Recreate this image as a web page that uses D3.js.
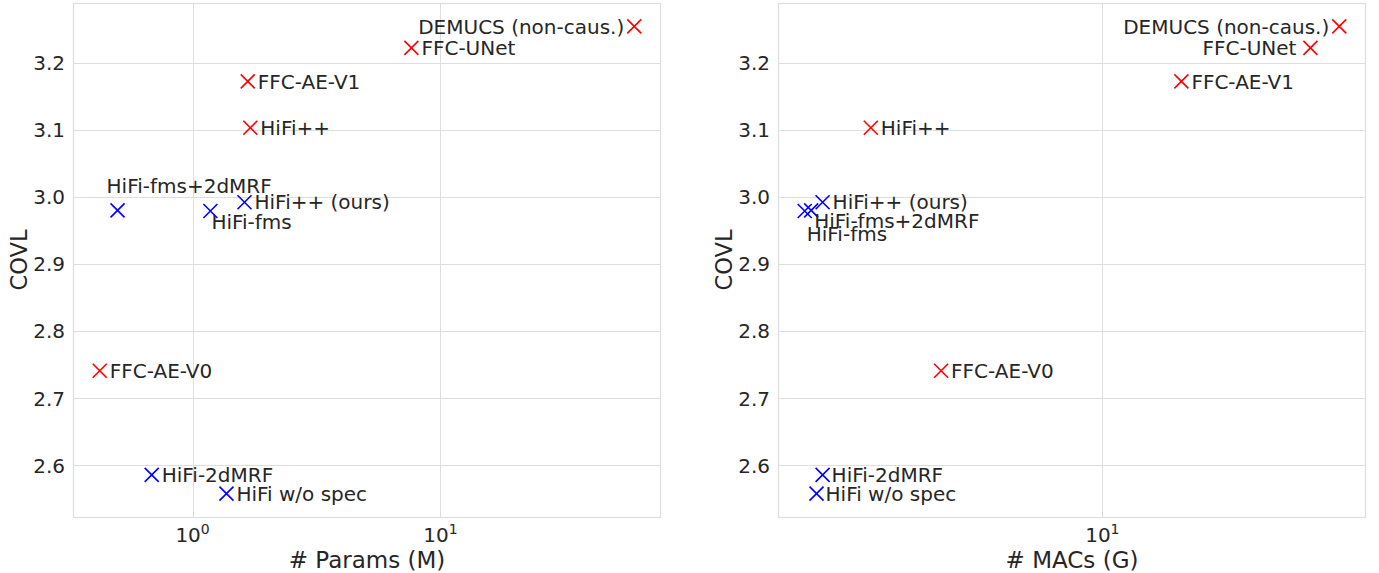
<!DOCTYPE html>
<html>
<head>
<meta charset="utf-8">
<script src="https://cdn.jsdelivr.net/npm/d3@7"></script>
<style>
  body { margin: 0; background: #fff; }
  svg { display: block; font-family: "DejaVu Sans", sans-serif; }
</style>
</head>
<body>
<div id="vis"></div>
<script>
'use strict';

// model names, in the same order for every array below
var models = ['DEMUCS (non-caus.)', 'FFC-UNet', 'FFC-AE-V1', 'HiFi++', 'FFC-AE-V0',
              'HiFi++ (ours)', 'HiFi-fms', 'HiFi-fms+2dMRF', 'HiFi-2dMRF', 'HiFi w/o spec'];
var ours = [false, false, false, false, false, true, true, true, true, true];
var covl = [3.254, 3.222, 3.172, 3.103, 2.741, 2.992, 2.979, 2.980, 2.586, 2.558];
var paramsM = [60.6, 7.64, 1.67, 1.71, 0.422, 1.62, 1.18, 0.498, 0.684, 1.37];
var macsG = [37.2, 31.7, 15.5, 2.77, 4.09, 2.12, 1.92, 1.99, 2.12, 2.05];
var yTicks = [2.6, 2.7, 2.8, 2.9, 3.0, 3.1, 3.2];

// label placement [dx, dy, anchor] per model, px from the marker
var labelsParams = [[-10, 0, 'end'], [10, 0, 'start'], [10, 0, 'start'], [10, 0, 'start'], [10, 0, 'start'],
                    [10, 0, 'start'], [1, 11, 'start'], [-11, -25, 'start'], [10, 0, 'start'], [10, 0, 'start']];
var labelsMacs = [[-10, 0, 'end'], [-14, 0, 'end'], [10, 0, 'start'], [10, 0, 'start'], [10, 0, 'start'],
                  [10, 0, 'start'], [2, 23, 'start'], [3, 10, 'start'], [9, 0, 'start'], [9, 0, 'start']];

var W = 1379, H = 573;
var textColor = '#262626', gridColor = '#dedede';

var svg = d3.select('#vis').append('svg').attr('width', W).attr('height', H);

// matplotlib style 5% margins (log space for x)
function logDomain(vals){
    var lo = Math.log10(d3.min(vals)), hi = Math.log10(d3.max(vals));
    var m = (hi - lo) * 0.05;
    return [Math.pow(10, lo - m), Math.pow(10, hi + m)];
}
var yExt = d3.extent(covl);
var yPad = (yExt[1] - yExt[0]) * 0.05;
var y = d3.scaleLinear().domain([yExt[0] - yPad, yExt[1] + yPad]).range([517, 3]);

function drawPanel(left, xvals, labelPos, xlabel){
    var right = left + 588;
    var x = d3.scaleLog().domain(logDomain(xvals)).range([left, right]);
    var g = svg.append('g');

    // grid
    var dom = x.domain();
    var decades = [];
    for (var e = Math.ceil(Math.log10(dom[0])); e <= Math.floor(Math.log10(dom[1])); e++) decades.push(e);
    g.selectAll('.vgrid').data(decades).enter().append('line')
        .attr('x1', function(d){ return Math.round(x(Math.pow(10, d))) + 0.5; })
        .attr('x2', function(d){ return Math.round(x(Math.pow(10, d))) + 0.5; })
        .attr('y1', 3).attr('y2', 517)
        .attr('stroke', gridColor).attr('stroke-width', 1);
    g.selectAll('.hgrid').data(yTicks).enter().append('line')
        .attr('x1', left).attr('x2', right)
        .attr('y1', function(d){ return Math.round(y(d)) + 0.5; })
        .attr('y2', function(d){ return Math.round(y(d)) + 0.5; })
        .attr('stroke', gridColor).attr('stroke-width', 1);
    g.append('rect').attr('x', left + 0.5).attr('y', 3.5).attr('width', 587).attr('height', 514)
        .attr('fill', 'none').attr('stroke', gridColor).attr('stroke-width', 1.2);

    // y tick labels
    g.selectAll('.ytl').data(yTicks).enter().append('text')
        .attr('x', left - 8).attr('y', function(d){ return y(d); }).attr('dy', '0.36em')
        .attr('text-anchor', 'end').attr('fill', textColor).style('font-size', '20px')
        .text(function(d){ return d3.format('.1f')(d); });

    // x tick labels 10^n
    var xt = g.selectAll('.xtl').data(decades).enter().append('text')
        .attr('x', function(d){ return x(Math.pow(10, d)); }).attr('y', 542)
        .attr('text-anchor', 'middle').attr('fill', textColor).style('font-size', '20px');
    xt.append('tspan').text('10');
    xt.append('tspan').attr('dy', -8).style('font-size', '14px').text(function(d){ return d; });

    // axis labels
    g.append('text').attr('x', (left + right) / 2).attr('y', 568)
        .attr('text-anchor', 'middle').attr('fill', textColor).style('font-size', '23px')
        .text(xlabel);
    g.append('text').attr('transform', 'translate(' + (left - 46) + ',260) rotate(-90)')
        .attr('text-anchor', 'middle').attr('fill', textColor).style('font-size', '22.5px')
        .text('COVL');

    // markers
    var s = 7;
    var pts = g.selectAll('.pt').data(models).enter().append('g')
        .attr('transform', function(d, i){ return 'translate(' + x(xvals[i]) + ',' + y(covl[i]) + ')'; });
    pts.append('path')
        .attr('d', 'M' + (-s) + ',' + (-s) + 'L' + s + ',' + s + 'M' + (-s) + ',' + s + 'L' + s + ',' + (-s))
        .attr('stroke', function(d, i){ return ours[i] ? '#0000ff' : '#ff0000'; })
        .attr('stroke-width', 1.6).attr('fill', 'none');
    pts.append('text')
        .attr('x', function(d, i){ return labelPos[i][0]; })
        .attr('y', function(d, i){ return labelPos[i][1]; })
        .attr('dy', '0.36em')
        .attr('text-anchor', function(d, i){ return labelPos[i][2]; })
        .attr('fill', textColor).style('font-size', '20px')
        .text(function(d){ return d; });
}

drawPanel(73, paramsM, labelsParams, '# Params (M)');
drawPanel(778, macsG, labelsMacs, '# MACs (G)');
</script>
</body>
</html>
